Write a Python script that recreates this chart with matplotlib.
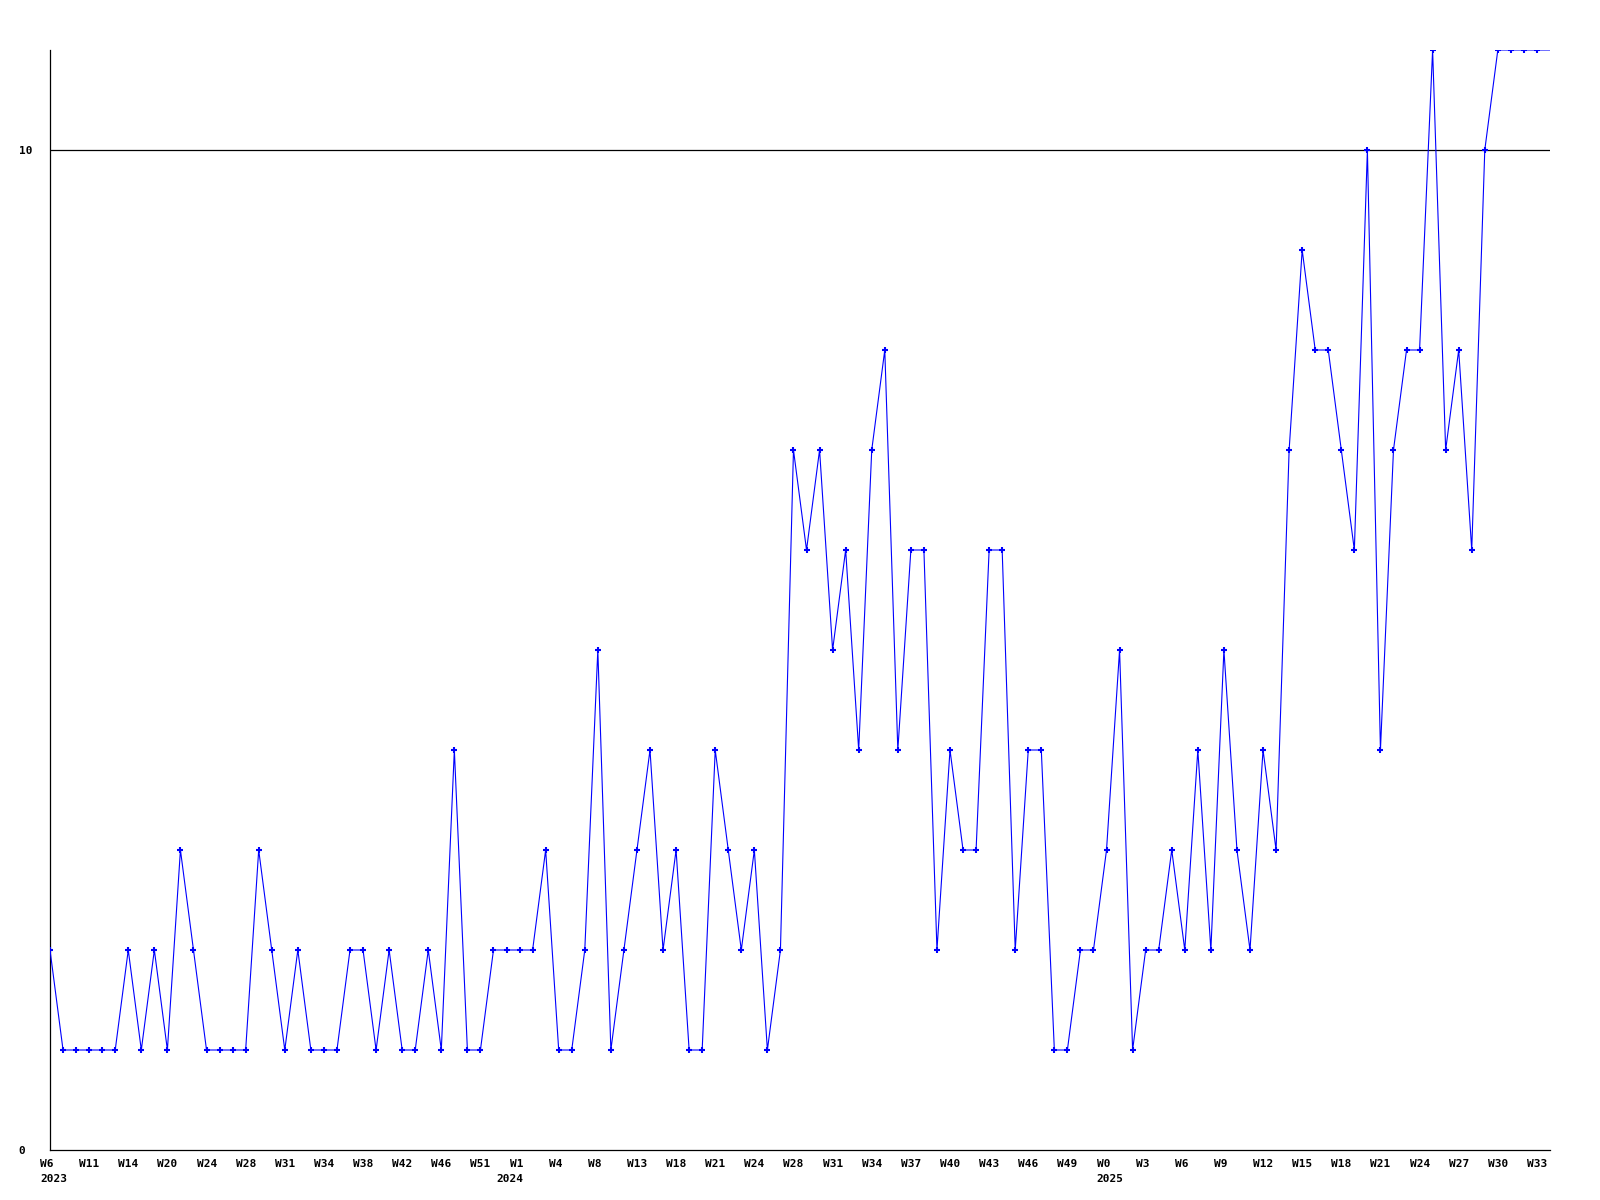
import numpy as np
import matplotlib
matplotlib.use("Agg")
import matplotlib.pyplot as plt
import matplotlib.transforms as mtransforms

# weekly counts (one point per reported week; last value is the running week)
values = [
    2, 1, 1, 1, 1, 1, 2, 1, 2, 1,
    3, 2, 1, 1, 1, 1, 3, 2, 1, 2,
    1, 1, 1, 2, 2, 1, 2, 1, 1, 2,
    1, 4, 1, 1, 2, 2, 2, 2, 3, 1,
    1, 2, 5, 1, 2, 3, 4, 2, 3, 1,
    1, 4, 3, 2, 3, 1, 2, 7, 6, 7,
    5, 6, 4, 7, 8, 4, 6, 6, 2, 4,
    3, 3, 6, 6, 2, 4, 4, 1, 1, 2,
    2, 3, 5, 1, 2, 2, 3, 2, 4, 2,
    5, 3, 2, 4, 3, 7, 9, 8, 8, 7,
    6, 10, 4, 7, 8, 8, 11, 7, 8, 6,
    10, 11, 11, 11, 11, 11,
]

week_labels = [
    "W6", "W11", "W14", "W20", "W24", "W28", "W31", "W34", "W38", "W42", "W46", "W51",
    "W1", "W4", "W8", "W13", "W18", "W21", "W24", "W28", "W31", "W34", "W37", "W40",
    "W43", "W46", "W49",
    "W0", "W3", "W6", "W9", "W12", "W15", "W18", "W21", "W24", "W27", "W30", "W33",
]
year_labels = ["2023", "2024", "2025"]
year_start_index = [0, 35, 81]   # first point of each year

y_ticks = [0, 10]

fig = plt.figure(figsize=(16, 12), dpi=100)
ax = fig.add_axes([50 / 1600, 50 / 1200, 1500 / 1600, 1100 / 1200])

x = np.arange(len(values))
blue = (0, 0, 1)
ax.plot(x, values, color=blue, lw=0.8, marker="+", ms=4.2, mew=1.5,
        markevery=list(range(len(values) - 1)), zorder=3)

ax.set_xlim(0, len(values) - 1)
ax.set_ylim(0, 11)

for s in ("top", "right"):
    ax.spines[s].set_visible(False)
for s in ("left", "bottom"):
    ax.spines[s].set_color("black")
    ax.spines[s].set_linewidth(0.9)

ax.axhline(10, color="black", lw=0.9, zorder=2)

font = dict(family="DejaVu Sans Mono", weight="bold", size=8)

ax.set_yticks(y_ticks)
ax.set_yticklabels([str(v) for v in y_ticks], fontdict=font)
ax.tick_params(axis="y", length=0, pad=22.5)
for t in ax.get_yticklabels():
    t.set_ha("left")

shift = mtransforms.ScaledTranslation(-10 / 100, 0, fig.dpi_scale_trans)
tick_pos = np.arange(0, 3 * len(week_labels), 3)
ax.set_xticks(tick_pos)
ax.set_xticklabels(week_labels, fontdict=font)
ax.tick_params(axis="x", length=0, pad=6.5)
for t in ax.get_xticklabels():
    t.set_ha("left")
    t.set_transform(t.get_transform() + shift)

year_tr = (mtransforms.blended_transform_factory(ax.transData, ax.transAxes)
           + mtransforms.ScaledTranslation(-10 / 100, -24 / 100, fig.dpi_scale_trans))
for pos, yl in zip(year_start_index, year_labels):
    ax.text(pos, 0, yl, transform=year_tr, ha="left", va="top", clip_on=False, **font)

fig.savefig("out.png", dpi=100)
